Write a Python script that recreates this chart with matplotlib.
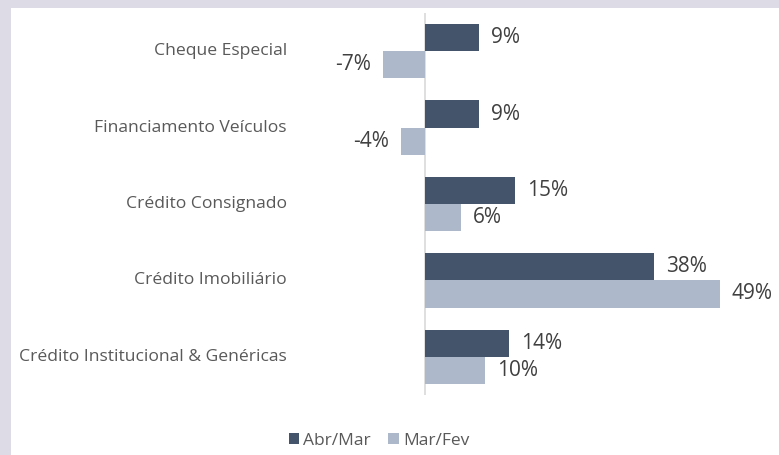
import matplotlib
matplotlib.use("Agg")
import matplotlib.pyplot as plt
from matplotlib.patches import Rectangle
import numpy as np

categories = [
    "Cheque Especial",
    "Financiamento Veículos",
    "Crédito Consignado",
    "Crédito Imobiliário",
    "Crédito Institucional & Genéricas",
]
abr_mar = [9, 9, 15, 38, 14]
mar_fev = [-7, -4, 6, 49, 10]
series_names = ["Abr/Mar", "Mar/Fev"]

dark = "#44546a"
light = "#adb9ca"
border = "#dcdbe6"

plt.rcParams["font.family"] = ["Open Sans", "DejaVu Sans"]

W, H = 779, 455
fig = plt.figure(figsize=(W / 100, H / 100), dpi=100)
fig.patch.set_facecolor("white")

# framing strips along the top and left edges
fig.patches.append(Rectangle((0, 0), 11 / W, 1, transform=fig.transFigure,
                             facecolor=border, edgecolor="none", zorder=0))
fig.patches.append(Rectangle((0, 1 - 8 / H), 1, 8 / H, transform=fig.transFigure,
                             facecolor=border, edgecolor="none", zorder=0))

# axes placement in pixels
zero_px = 425
scale = 6.02  # px per percentage point
L, R = 300, 745
top, bottom = 13, 395
ax = fig.add_axes([L / W, 1 - bottom / H, (R - L) / W, (bottom - top) / H])
ax.set_xlim((L - zero_px) / scale, (R - zero_px) / scale)
ax.set_ylim(len(categories) - 0.5, -0.5)

y = np.arange(len(categories))
h = 0.355
ax.barh(y - h / 2, abr_mar, height=h, color=dark, label=series_names[0])
ax.barh(y + h / 2, mar_fev, height=h, color=light, label=series_names[1])

pad = 8.5  # points between bar end and value label
for ys, vals in ((y - h / 2, abr_mar), (y + h / 2, mar_fev)):
    for yi, v in zip(ys, vals):
        ax.annotate(f"{v}%", (v, yi), xytext=(pad if v >= 0 else -pad, 0),
                    textcoords="offset points", va="center",
                    ha="left" if v >= 0 else "right", fontsize=15,
                    color="#404040")

ax.axvline(0, color="#d9d9d9", lw=1.2, zorder=0)

for s in ax.spines.values():
    s.set_visible(False)
ax.set_xticks([])
ax.set_yticks([])
ax.set_facecolor("none")

for yi, c in zip(y, categories):
    ax.text(287 / W, 1 - (top + (yi + 0.5) * (bottom - top) / len(categories)) / H, c,
            transform=fig.transFigure, ha="right", va="center",
            fontsize=12.6, color="#595959")

leg = fig.legend(loc="center", bbox_to_anchor=(379 / W, 1 - 441 / H),
                 ncol=2, frameon=False, fontsize=12.5, handlelength=0.6,
                 handleheight=0.6, handletextpad=0.25, columnspacing=1.0)
for t in leg.get_texts():
    t.set_color("#595959")

fig.savefig("out.png", dpi=100, facecolor=fig.get_facecolor())
